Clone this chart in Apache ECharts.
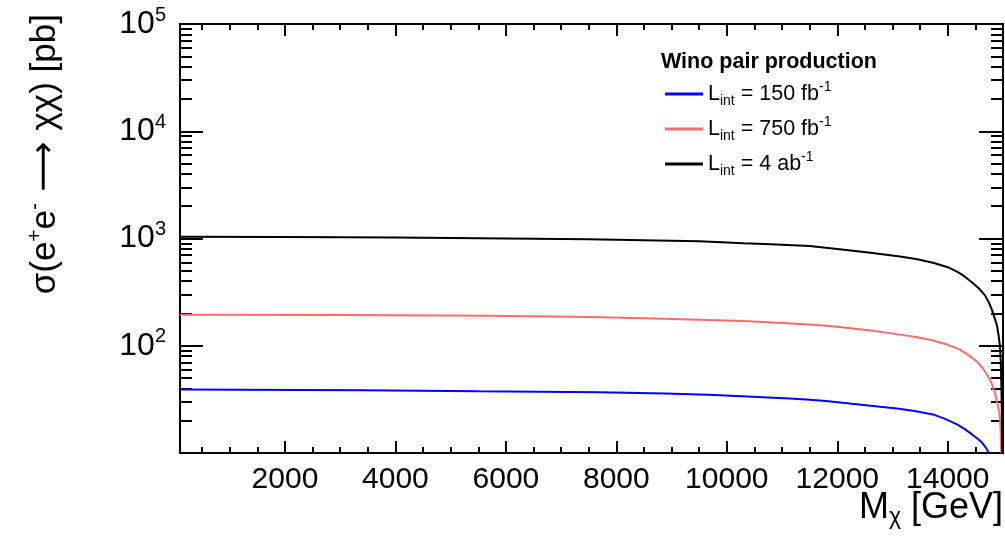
<!DOCTYPE html>
<html>
<head>
<meta charset="utf-8">
<script src="https://cdn.jsdelivr.net/npm/echarts@6/dist/echarts.min.js"></script>
<style>
html,body{margin:0;padding:0;background:#fff;}
#chart{width:1005px;height:538px;}
</style>
</head>
<body>
<div id="chart"></div>
<script>
// ---- data ----
const massBlack = [100, 2000, 4000, 6000, 7500, 8500, 9500, 10300, 10800, 11500, 12000, 12600, 13135, 13450, 13750, 14000, 14167, 14300, 14457, 14570, 14674, 14750, 14800, 14850, 14891, 14920, 14946, 14960, 14972, 14980, 14988];
const valsBlack = [1040, 1035, 1020, 1000, 985, 965, 945, 905, 885, 850, 800, 735, 680, 640, 590, 540, 490, 445, 383, 340, 295, 250, 216, 180, 155, 125, 98, 70, 40, 22, 10];

const massRed = [100, 3000, 5700, 7500, 8500, 9500, 10300, 10800, 11500, 12000, 12600, 13135, 13450, 13733, 14000, 14222, 14400, 14530, 14640, 14728, 14800, 14855, 14900, 14937, 14955, 14968];
const valsRed = [195, 193, 190, 185, 180, 175, 170, 165, 158, 150, 139, 127, 120, 112, 102, 92, 80, 71, 61, 52, 44, 36, 29, 23, 17, 10];

const massBlue = [100, 3400, 5500, 7700, 8880, 9659, 10275, 10745, 11144, 11506, 11796, 12049, 12267, 12520, 12773, 13081, 13400, 13733, 13950, 14167, 14300, 14440, 14540, 14620, 14690, 14746];
const valsBlue = [39, 38.5, 37.6, 36.8, 35.9, 35, 33.9, 33, 32.2, 31.3, 30.5, 29.6, 28.8, 27.9, 27, 26, 24.6, 22.9, 20.8, 18.5, 16.8, 14.9, 13.6, 12.5, 11.2, 10];

const seriesNames = ['L150', 'L750', 'L4ab'];
const legendLabels = {
  L150: '{n|L}{s|int}{n| = 150 fb}{p|-1}',
  L750: '{n|L}{s|int}{n| = 750 fb}{p|-1}',
  L4ab: '{n|L}{s|int}{n| = 4 ab}{p|-1}'
};
const xMajorTicks = [2000, 4000, 6000, 8000, 10000, 12000, 14000];
const yMajorTicks = [100, 1000, 10000, 100000];
const legendTitle = 'Wino pair production';

// ---- derived tick lists ----
const xMinorTicks = [];
for (let v = 500; v < 15000; v += 500) if (v % 2000 !== 0) xMinorTicks.push(v);
const yMinorTicks = [];
for (let d = 10; d < 100000; d *= 10) for (let k = 2; k <= 9; k++) yMinorTicks.push(d * k);

const zip = (a, b) => a.map((x, i) => [x, b[i]]);
const FONT = '"Liberation Sans", Arial, Helvetica, sans-serif';
const X_MIN = 100, X_MAX = 15000, Y_MIN = 10, Y_MAX = 100000;

function xAxisDef(pos, ticks, len, labels) {
  return {
    type: 'value', position: pos, min: X_MIN, max: X_MAX,
    axisLine: { show: true, onZero: false, lineStyle: { color: '#000', width: 2 } },
    axisTick: { show: true, inside: true, length: len, customValues: ticks, lineStyle: { color: '#000', width: 2 } },
    axisLabel: labels ? { show: true, customValues: xMajorTicks, formatter: v => String(v), color: '#000', fontSize: 30, fontFamily: FONT, margin: 12 } : { show: false },
    splitLine: { show: false }
  };
}
function yAxisDef(pos, ticks, len, labels) {
  return {
    type: 'log', logBase: 10, position: pos, min: Y_MIN, max: Y_MAX,
    axisLine: { show: true, onZero: false, lineStyle: { color: '#000', width: 2 } },
    axisTick: { show: true, inside: true, length: len, customValues: ticks, lineStyle: { color: '#000', width: 2 } },
    axisLabel: labels ? {
      show: true, customValues: yMajorTicks, margin: 14,
      formatter: v => '{b|10}{e|' + Math.round(Math.log10(v)) + '}',
      rich: {
        b: { fontSize: 32, fontFamily: FONT, color: '#000', lineHeight: 38 },
        e: { fontSize: 20, fontFamily: FONT, color: '#000', lineHeight: 20, verticalAlign: 'top' }
      }
    } : { show: false },
    splitLine: { show: false }
  };
}

const chart = echarts.init(document.getElementById('chart'), null, { renderer: 'canvas' });
const option = {
  animation: false,
  backgroundColor: '#fff',
  grid: { left: 180, top: 24, right: 2, bottom: 85, containLabel: false },
  title: {
    text: legendTitle, left: 656, top: 46,
    textStyle: { fontSize: 21.5, fontWeight: 'bold', fontFamily: FONT, color: '#000' }
  },
  legend: {
    orient: 'vertical', left: 660, top: 75, itemGap: 7,
    itemWidth: 38, itemHeight: 3, icon: 'rect',
    data: seriesNames,
    formatter: n => legendLabels[n],
    textStyle: {
      rich: {
        n: { fontSize: 21.5, fontFamily: FONT, color: '#000', lineHeight: 28 },
        s: { fontSize: 14, fontFamily: FONT, color: '#000', lineHeight: 14, verticalAlign: 'bottom' },
        p: { fontSize: 14, fontFamily: FONT, color: '#000', lineHeight: 14, verticalAlign: 'top' }
      }
    }
  },
  xAxis: [
    xAxisDef('bottom', xMajorTicks, 12, true),
    xAxisDef('bottom', xMinorTicks, 6, false),
    xAxisDef('top', xMajorTicks, 12, false),
    xAxisDef('top', xMinorTicks, 6, false)
  ],
  yAxis: [
    yAxisDef('left', yMajorTicks, 23, true),
    yAxisDef('left', yMinorTicks, 12, false),
    yAxisDef('right', yMajorTicks, 24, false),
    yAxisDef('right', yMinorTicks, 12, false)
  ],
  graphic: [
    {
      type: 'text', right: 2, top: 490,
      style: {
        text: '{n|M}{s|χ}{n| [GeV]}',
        rich: {
          n: { fontSize: 36, fontFamily: FONT, fill: '#000', lineHeight: 42 },
          s: { fontSize: 23, fontFamily: FONT, fill: '#000', lineHeight: 22, verticalAlign: 'bottom' }
        }
      }
    },
    {
      type: 'text', x: 25, y: 14, rotation: Math.PI / 2,
      style: {
        text: '{n|σ(e}{p|+}{n|e}{p|-}{a| ⟶ }{n|χχ) [pb]}',
        align: 'right', verticalAlign: 'top',
        rich: {
          n: { fontSize: 35, fontFamily: FONT, fill: '#000', lineHeight: 40 },
          a: { fontSize: 35, fontFamily: '"DejaVu Sans", sans-serif', fill: '#000', lineHeight: 40 },
          p: { fontSize: 21, fontFamily: FONT, fill: '#000', lineHeight: 22, verticalAlign: 'top' }
        }
      }
    }
  ],
  series: [
    { name: 'L150', type: 'line', data: zip(massBlue, valsBlue), showSymbol: false, symbol: 'none', color: '#0000ff', lineStyle: { color: '#0000ff', width: 2 } },
    { name: 'L750', type: 'line', data: zip(massRed, valsRed), showSymbol: false, symbol: 'none', color: '#ff6b6b', lineStyle: { color: '#ff6b6b', width: 2 } },
    { name: 'L4ab', type: 'line', data: zip(massBlack, valsBlack), showSymbol: false, symbol: 'none', color: '#000000', lineStyle: { color: '#000000', width: 2 } }
  ]
};
chart.setOption(option);
</script>
</body>
</html>
